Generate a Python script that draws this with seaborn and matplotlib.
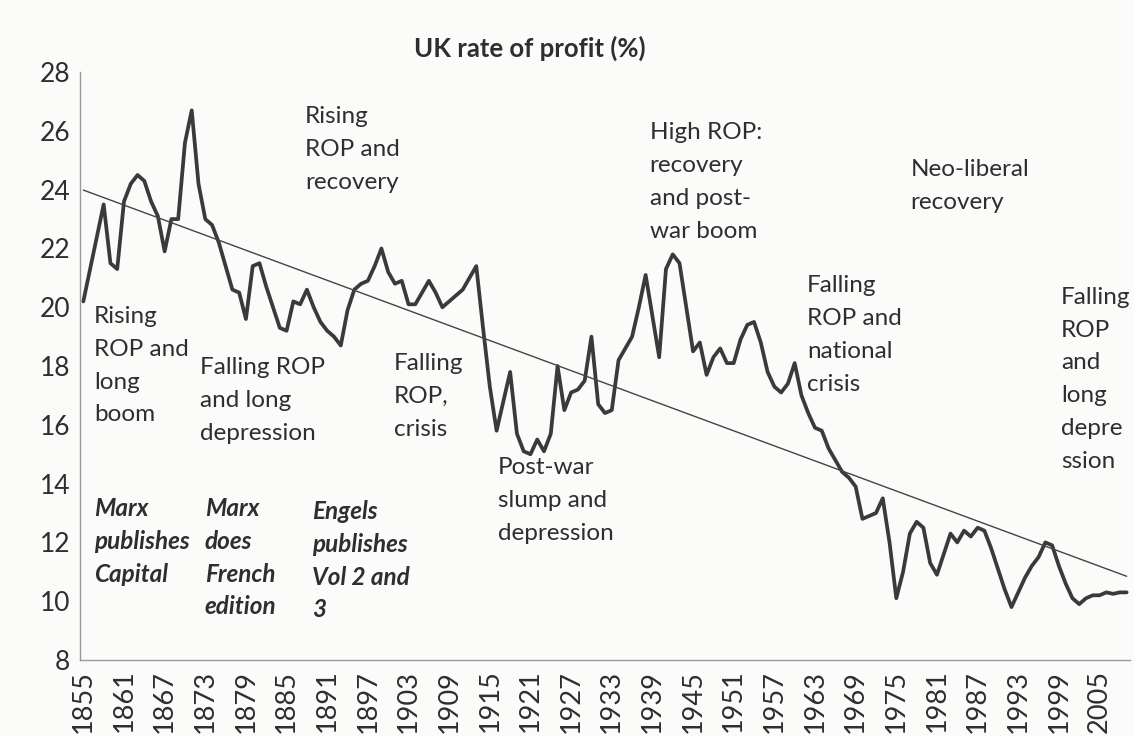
import numpy as np
import pandas as pd
import seaborn as sns
import matplotlib.pyplot as plt
from matplotlib.ticker import MultipleLocator, FixedLocator

# Données (UK rate of profit, %)
years = list(range(1855, 2010))
rop = [
    20.2, 21.3, 22.4, 23.5, 21.5, 21.3, 23.6, 24.2, 24.5, 24.3,   # 1855-1864
    23.6, 23.1, 21.9, 23.0, 23.0, 25.6, 26.7, 24.2, 23.0, 22.8,   # 1865-1874
    22.2, 21.4, 20.6, 20.5, 19.6, 21.4, 21.5, 20.7, 20.0, 19.3,   # 1875-1884
    19.2, 20.2, 20.1, 20.6, 20.0, 19.5, 19.2, 19.0, 18.7, 19.9,   # 1885-1894
    20.6, 20.8, 20.9, 21.4, 22.0, 21.2, 20.8, 20.9, 20.1, 20.1,   # 1895-1904
    20.5, 20.9, 20.5, 20.0, 20.2, 20.4, 20.6, 21.0, 21.4, 19.3,   # 1905-1914
    17.3, 15.8, 16.8, 17.8, 15.7, 15.1, 15.0, 15.5, 15.1, 15.7,   # 1915-1924
    18.0, 16.5, 17.1, 17.2, 17.5, 19.0, 16.7, 16.4, 16.5, 18.2,   # 1925-1934
    18.6, 19.0, 20.0, 21.1, 19.7, 18.3, 21.3, 21.8, 21.5, 20.0,   # 1935-1944
    18.5, 18.8, 17.7, 18.3, 18.6, 18.1, 18.1, 18.9, 19.4, 19.5,   # 1945-1954
    18.8, 17.8, 17.3, 17.1, 17.4, 18.1, 17.0, 16.4, 15.9, 15.8,   # 1955-1964
    15.2, 14.8, 14.4, 14.2, 13.9, 12.8, 12.9, 13.0, 13.5, 12.0,   # 1965-1974
    10.1, 11.0, 12.3, 12.7, 12.5, 11.3, 10.9, 11.6, 12.3, 12.0,   # 1975-1984
    12.4, 12.2, 12.5, 12.4, 11.8, 11.1, 10.4, 9.8, 10.3, 10.8,    # 1985-1994
    11.2, 11.5, 12.0, 11.9, 11.2, 10.6, 10.1, 9.9, 10.1, 10.2,    # 1995-2004
    10.2, 10.3, 10.25, 10.3, 10.3,                                # 2005-2009
]
df = pd.DataFrame({'year': years, 'rop': rop})

tick_years = list(range(1855, 2006, 6))
y_ticks = list(range(8, 29, 2))

# Périodes (texte, position)
periods = [
    ("Rising\nROP and\nlong\nboom", 1856.6, 20.05),
    ("Falling ROP\nand long\ndepression", 1872.2, 18.3),
    ("Rising\nROP and\nrecovery", 1887.7, 26.85),
    ("Falling\nROP,\ncrisis", 1900.8, 18.45),
    ("Post-war\nslump and\ndepression", 1916.2, 14.9),
    ("High ROP:\nrecovery\nand post-\nwar boom", 1938.6, 26.3),
    ("Falling\nROP and\nnational\ncrisis", 1961.8, 21.1),
    ("Neo-liberal\nrecovery", 1977.1, 25.05),
    ("Falling\nROP\nand\nlong\ndepre\nssion", 1999.3, 20.7),
]
events = [
    ("Marx\npublishes\nCapital", 1856.6, 13.55),
    ("Marx\ndoes\nFrench\nedition", 1872.9, 13.55),
    ("Engels\npublishes\nVol 2 and\n3", 1888.8, 13.45),
]

sns.set_style("white")
plt.rcParams['font.family'] = ['Lato', 'DejaVu Sans']
txt = '#2e2e2e'

fig = plt.figure(figsize=(11.34, 7.36), dpi=100, facecolor='#fbfbfa')
ax = fig.add_axes([0.0705, 0.1033, 0.926, 0.7987])
ax.set_facecolor('#fbfbfa')

sns.lineplot(data=df, x='year', y='rop', ax=ax, color='#3a3a3a', linewidth=2.7)
sns.regplot(data=df, x='year', y='rop', ax=ax, scatter=False, ci=None, truncate=True,
            line_kws={'color': '#444444', 'linewidth': 1.0})

ax.set_xlim(1854.5, 2009.5)
ax.set_ylim(8, 28)
ax.set_xlabel('')
ax.set_ylabel('')

for s in ['top', 'right']:
    ax.spines[s].set_visible(False)
for s in ['left', 'bottom']:
    ax.spines[s].set_color('#9a9a9a')
    ax.spines[s].set_linewidth(1.0)

ax.set_yticks(y_ticks)
ax.set_xticks(tick_years)
ax.xaxis.set_minor_locator(FixedLocator([y + 0.5 for y in range(1854, 2010)]))
ax.tick_params(axis='x', which='major', length=0, pad=7, labelsize=19.5, labelrotation=90, labelcolor=txt)
ax.tick_params(axis='x', which='minor', length=7, width=0.8, color='#8a8a8a', direction='out')
ax.tick_params(axis='y', which='major', length=6, width=0.8, color='#8a8a8a', direction='out',
               labelsize=19, labelcolor=txt, pad=1)
ax.set_xticklabels([str(y) for y in tick_years])

for label, x, y in periods:
    ax.text(x, y, label, fontsize=17.5, color=txt, va='top', ha='left', linespacing=1.7)
for label, x, y in events:
    ax.text(x, y, label, fontsize=17.5, color=txt, va='top', ha='left', linespacing=1.52,
            fontweight='bold', fontstyle='italic')

fig.text(0.467, 0.935, "UK rate of profit (%)", fontsize=18.5, fontweight='bold', color=txt,
         ha='center', va='center')

fig.savefig('out.png', dpi=100, facecolor=fig.get_facecolor())
